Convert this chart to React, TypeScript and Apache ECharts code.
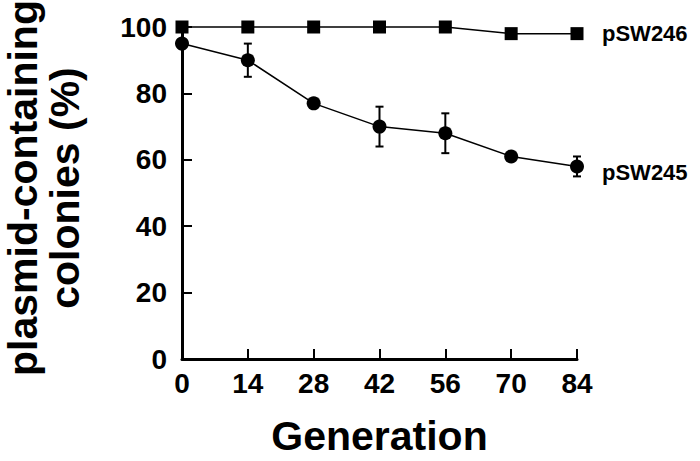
import React, { useEffect, useRef } from "react";
import * as echarts from "echarts";

const generations = [0, 14, 28, 42, 56, 70, 84];
const pSW246 = [100, 100, 100, 100, 100, 98, 98];
const pSW245 = [95, 90, 77, 70, 68, 61, 58];
const pSW245Err = [0, 5, 0, 6, 6, 0, 3];
const xTicks = [0, 14, 28, 42, 56, 70, 84];
const yTicks = [0, 20, 40, 60, 80, 100];

const FONT = '"Liberation Sans", Arial, Helvetica, sans-serif';

export default function App() {
  const ref = useRef<HTMLDivElement>(null);
  useEffect(() => {
    if (!ref.current) return;
    document.body.style.margin = "0";
    const chart = echarts.init(ref.current, null, { renderer: "svg" });
    const errData = generations
      .map((g, i) => [g, pSW245[i] - pSW245Err[i], pSW245[i] + pSW245Err[i]])
      .filter((_, i) => pSW245Err[i] > 0);
    chart.setOption({
      animation: false,
      backgroundColor: "#fff",
      grid: { left: 182, right: 123, top: 27, bottom: 102, outerBoundsMode: "none", containLabel: false },
      xAxis: {
        type: "value",
        min: xTicks[0],
        max: xTicks[xTicks.length - 1],
        interval: 14,
        name: "Generation",
        nameLocation: "middle",
        nameGap: 60,
        nameTextStyle: { fontFamily: FONT, fontWeight: "bold", fontSize: 41, lineHeight: 34, color: "#000" },
        axisLine: { lineStyle: { color: "#000", width: 3 } },
        axisTick: { inside: true, length: 10, lineStyle: { color: "#000", width: 2 } },
        axisLabel: { fontFamily: FONT, fontWeight: "bold", fontSize: 28, color: "#000", margin: 10 },
        splitLine: { show: false },
      },
      yAxis: {
        type: "value",
        min: yTicks[0],
        max: yTicks[yTicks.length - 1],
        interval: 20,
        axisLine: { show: true, lineStyle: { color: "#000", width: 3 } },
        axisTick: { show: true, inside: true, length: 10, lineStyle: { color: "#000", width: 2 } },
        axisLabel: { fontFamily: FONT, fontWeight: "bold", fontSize: 28, color: "#000", margin: 15 },
        splitLine: { show: false },
      },
      graphic: [
        {
          type: "text",
          x: 44,
          y: 188,
          rotation: Math.PI / 2,
          style: {
            text: "plasmid-containing\ncolonies (%)",
            font: `bold 41px ${FONT}`,
            lineHeight: 42,
            fill: "#000",
            align: "center",
            verticalAlign: "middle",
          },
        },
      ],
      series: [
        {
          type: "custom",
          name: "err",
          clip: false,
          z: 1,
          data: errData,
          renderItem: (params: any, api: any) => {
            const x = api.value(0);
            const lo = api.coord([x, api.value(1)]);
            const hi = api.coord([x, api.value(2)]);
            const w = 4;
            return {
              type: "group",
              children: [
                { type: "line", shape: { x1: lo[0], y1: lo[1], x2: hi[0], y2: hi[1] }, style: { stroke: "#000", lineWidth: 2 } },
                { type: "line", shape: { x1: lo[0] - w, y1: lo[1], x2: lo[0] + w, y2: lo[1] }, style: { stroke: "#000", lineWidth: 2 } },
                { type: "line", shape: { x1: hi[0] - w, y1: hi[1], x2: hi[0] + w, y2: hi[1] }, style: { stroke: "#000", lineWidth: 2 } },
              ],
            };
          },
        },
        {
          type: "line",
          name: "pSW245",
          data: generations.map((g, i) => [g, pSW245[i]]),
          symbol: "circle",
          symbolSize: 14,
          clip: false,
          z: 2,
          lineStyle: { color: "#000", width: 1.5 },
          itemStyle: { color: "#000" },
          endLabel: {
            show: true,
            formatter: "pSW245",
            distance: 25,
            offset: [0, 6],
            fontFamily: FONT,
            fontWeight: "bold",
            fontSize: 22,
            color: "#000",
          },
        },
        {
          type: "line",
          name: "pSW246",
          data: generations.map((g, i) => [g, pSW246[i]]),
          symbol: "rect",
          symbolSize: 13,
          clip: false,
          z: 3,
          lineStyle: { color: "#000", width: 1.5 },
          itemStyle: { color: "#000" },
          endLabel: {
            show: true,
            formatter: "pSW246",
            distance: 25,
            offset: [0, 0],
            fontFamily: FONT,
            fontWeight: "bold",
            fontSize: 22,
            color: "#000",
          },
        },
      ],
    });
    return () => chart.dispose();
  }, []);
  return <div ref={ref} style={{ position: "fixed", left: 0, top: 0, width: 700, height: 461 }} />;
}
